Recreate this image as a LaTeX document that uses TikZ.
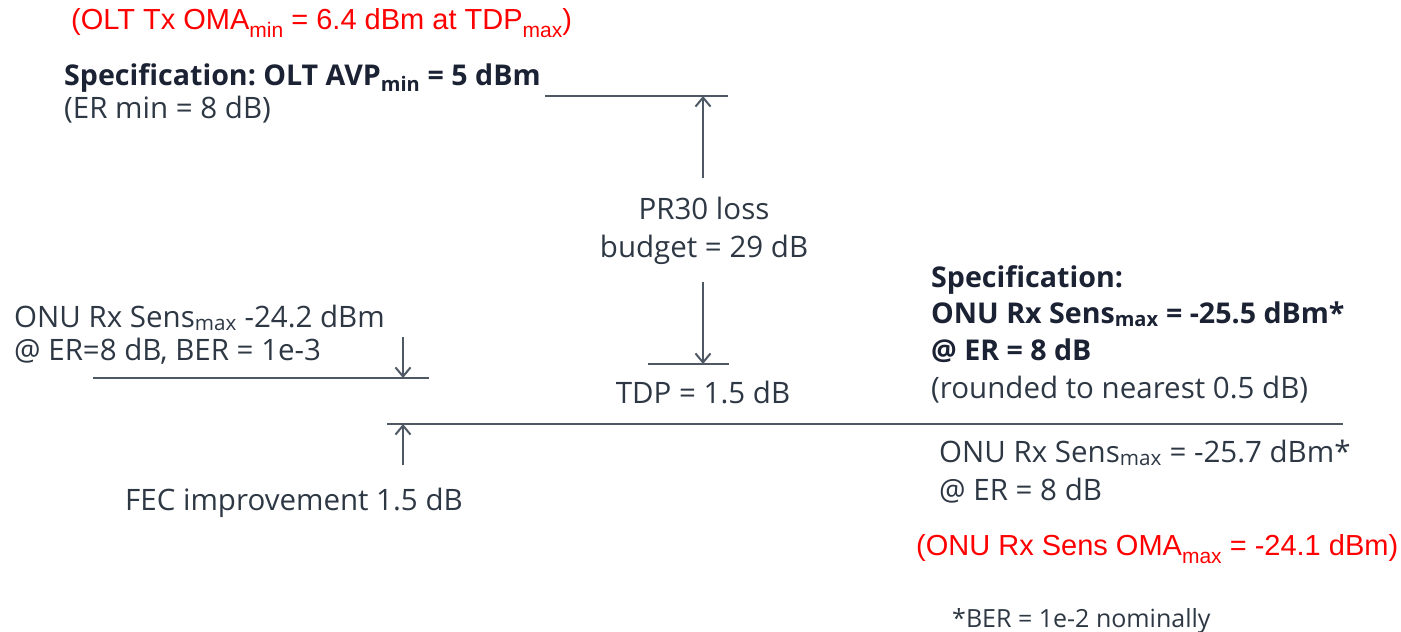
\documentclass[tikz,border=0pt]{standalone}
\usepackage{fontspec}
\setmainfont{Open Sans}
\newfontfamily\redfont{Liberation Sans}
\usetikzlibrary{arrows.meta}
\frenchspacing
\definecolor{txt}{HTML}{2E3844}
\definecolor{boldtxt}{HTML}{1A2233}
\definecolor{ln}{HTML}{4F5966}
\definecolor{rd}{HTML}{FF0000}
\newcommand{\rsub}[1]{\raisebox{-0.28em}{\fontsize{21}{24}\selectfont #1}}
\tikzset{
  lbl/.style={inner sep=0pt, text=txt, font=\fontsize{29.5}{34}\selectfont},
  blbl/.style={inner sep=0pt, text=boldtxt, font=\fontsize{28.6}{34}\selectfont\bfseries},
  rlbl/.style={inner sep=0pt, text=rd, font=\redfont\fontsize{29}{34}\selectfont},
  hline/.style={draw=ln, line width=2pt},
  darrow/.style={draw=ln, line width=2pt, -{Straight Barb[length=9pt,width=15pt,line width=2pt]}}
}
\begin{document}
\begin{tikzpicture}[x=1pt,y=-1pt]
\useasboundingbox (0,0) rectangle (1401,632);
\fill[white] (0,0) rectangle (1401,632);

% texts
\node[rlbl, anchor=base west] (oma) at (71,29) {(OLT Tx OMA\rsub{min} = 6.4 dBm at TDP\rsub{max})};
\node[blbl, anchor=base west] (specolt) at (64,85) {Specification: OLT AVP\textsubscript{min} = 5 dBm};
\node[lbl, anchor=base west] (ermin) at (64,118) {(ER min = 8 dB)};
\node[lbl, anchor=base] (pr30a) at (704,219) {PR30 loss};
\node[lbl, anchor=base] (pr30b) at (704,257) {budget = 29 dB};
\node[lbl, anchor=base] (tdp) at (703,403) {TDP = 1.5 dB};
\node[lbl, anchor=base west] (onua) at (14,327) {ONU Rx Sens\textsubscript{max} -24.2 dBm};
\node[lbl, anchor=base west] (onub) at (14,360) {@ ER=8 dB, BER = 1e-3};
\node[lbl, anchor=base west] (fec) at (125,510) {FEC improvement 1.5 dB};
\node[blbl, anchor=base west] (spec2a) at (931,287) {Specification:};
\node[blbl, anchor=base west] (spec2b) at (931,323) {ONU Rx Sens\textsubscript{max} = -25.5 dBm*};
\node[blbl, anchor=base west] (spec2c) at (931,360) {@ ER = 8 dB};
\node[lbl, anchor=base west] (spec2d) at (931,398) {(rounded to nearest 0.5 dB)};
\node[lbl, anchor=base west] (sens2a) at (939,462) {ONU Rx Sens\textsubscript{max} = -25.7 dBm*};
\node[lbl, anchor=base west] (sens2b) at (939,500) {@ ER = 8 dB};
\node[rlbl, anchor=base west] (omaonu) at (916,555) {(ONU Rx Sens OMA\rsub{max} = -24.1 dBm)};
\node[lbl, anchor=base west, font=\fontsize{25}{28}\selectfont] (ber) at (952,627) {*BER = 1e-2 nominally};

% level lines
\coordinate (topL) at (545,96);
\coordinate (topR) at (728,96);
\coordinate (tdpL) at (648,364);
\coordinate (tdpR) at (729,364);
\coordinate (onuL) at (93,378);
\coordinate (onuR) at (429,378);
\coordinate (longL) at (387,424);
\coordinate (longR) at (1343,424);
\draw[hline] (topL) -- (topR);
\draw[hline] (tdpL) -- (tdpR);
\draw[hline] (onuL) -- (onuR);
\draw[hline] (longL) -- (longR);

% arrows
\coordinate (a1s) at (703,178);
\coordinate (a1e) at (703,96);
\coordinate (a2s) at (703,282);
\coordinate (a2e) at (703,364);
\coordinate (a3s) at (403,337);
\coordinate (a3e) at (403,378);
\coordinate (a4s) at (403,465);
\coordinate (a4e) at (403,424);
\draw[darrow] (a1s) -- (a1e);
\draw[darrow] (a2s) -- (a2e);
\draw[darrow] (a3s) -- (a3e);
\draw[darrow] (a4s) -- (a4e);
\end{tikzpicture}
\end{document}
